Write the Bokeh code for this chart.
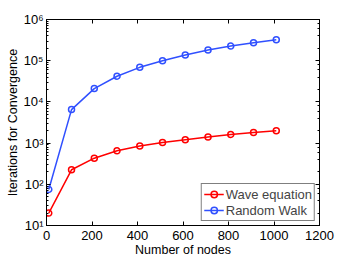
from bokeh.plotting import figure
from bokeh.models import LogAxis, LinearAxis, CustomJSTickFormatter, Legend, LegendItem, FixedTicker, Range1d
from bokeh.embed import file_html
from bokeh.resources import INLINE

nodes = [10, 110, 210, 310, 410, 510, 610, 710, 810, 910, 1010]
wave_equation = [20, 225, 430, 650, 850, 1030, 1200, 1400, 1620, 1800, 2000]
random_walk = [75, 6500, 21000, 42000, 69000, 100000, 138000, 182000, 226000, 273000, 324000]
x_ticks = [0, 200, 400, 600, 800, 1000, 1200]

FONT = "Liberation Sans"
RED = "#ff0000"
BLUE = "#3050ff"

p = figure(width=337, height=249, y_axis_type="log", output_backend="svg",
           toolbar_location=None, x_range=Range1d(0, 1200), y_range=Range1d(10, 1e6),
           min_border_left=10, min_border_top=19, min_border_right=20, min_border_bottom=4)
p.frame_width = 273
p.frame_height = 206
p.margin = (0, 0, 0, 3)
p.xgrid.visible = False
p.ygrid.visible = False
p.outline_line_color = "black"
p.outline_line_width = 1
p.background_fill_color = "white"
p.border_fill_color = "white"

sup_code = """
const sup = {'0':'\u2070','1':'\u00b9','2':'\u00b2','3':'\u00b3','4':'\u2074','5':'\u2075','6':'\u2076','7':'\u2077','8':'\u2078','9':'\u2079','-':'\u207b'};
const e = Math.round(Math.log10(tick));
return '10' + String(e).split('').map(c => sup[c]).join('');
"""

def style_axis(ax):
    ax.axis_line_color = "black"
    ax.major_tick_in = 4
    ax.major_tick_out = 0
    ax.minor_tick_in = 2
    ax.minor_tick_out = 0
    ax.major_label_text_font = FONT
    ax.major_label_text_font_size = "13px"
    ax.major_label_text_color = "black"
    ax.axis_label_text_font = FONT
    ax.axis_label_text_font_size = "12.5px"
    ax.axis_label_text_font_style = "normal"
    ax.axis_label_text_color = "black"

xa = p.xaxis[0]
style_axis(xa)
xa.ticker = FixedTicker(ticks=x_ticks)
xa.minor_tick_in = 0
xa.axis_label = "Number of nodes"
xa.axis_label_standoff = 0
xa.major_label_standoff = 5

ya = p.yaxis[0]
style_axis(ya)
ya.ticker.num_minor_ticks = 10
ya.formatter = CustomJSTickFormatter(code=sup_code)
ya.axis_label = "Iterations for Convergence"
ya.axis_label_standoff = 0
ya.major_label_standoff = 3

blank = CustomJSTickFormatter(code="return ''")
top = LinearAxis(ticker=FixedTicker(ticks=x_ticks), formatter=blank)
style_axis(top)
top.minor_tick_in = 0
top.major_label_standoff = 0
top.major_label_text_font_size = "1px"
p.add_layout(top, "above")
right = LogAxis(formatter=blank)
style_axis(right)
right.major_label_standoff = 0
right.major_label_text_font_size = "1px"
p.add_layout(right, "right")

l1 = p.line(nodes, wave_equation, line_color=RED, line_width=1.5)
s1 = p.scatter(nodes, wave_equation, marker="circle", size=6, line_color=RED, fill_color=None, line_width=1.5)
l2 = p.line(nodes, random_walk, line_color=BLUE, line_width=1.5)
s2 = p.scatter(nodes, random_walk, marker="circle", size=6, line_color=BLUE, fill_color=None, line_width=1.5)

legend = Legend(items=[LegendItem(label="Wave equation", renderers=[l1, s1]),
                       LegendItem(label="Random Walk", renderers=[l2, s2])],
                location="bottom_right")
legend.label_text_font = FONT
legend.label_text_font_size = "13px"
legend.label_height = 16
legend.glyph_height = 16
legend.glyph_width = 20
legend.spacing = 0
legend.padding = 2
legend.margin = 4
legend.border_line_color = "black"
legend.border_line_width = 1
legend.label_standoff = 2
p.add_layout(legend, "center")

open("out.html", "w").write(file_html(p, INLINE))
